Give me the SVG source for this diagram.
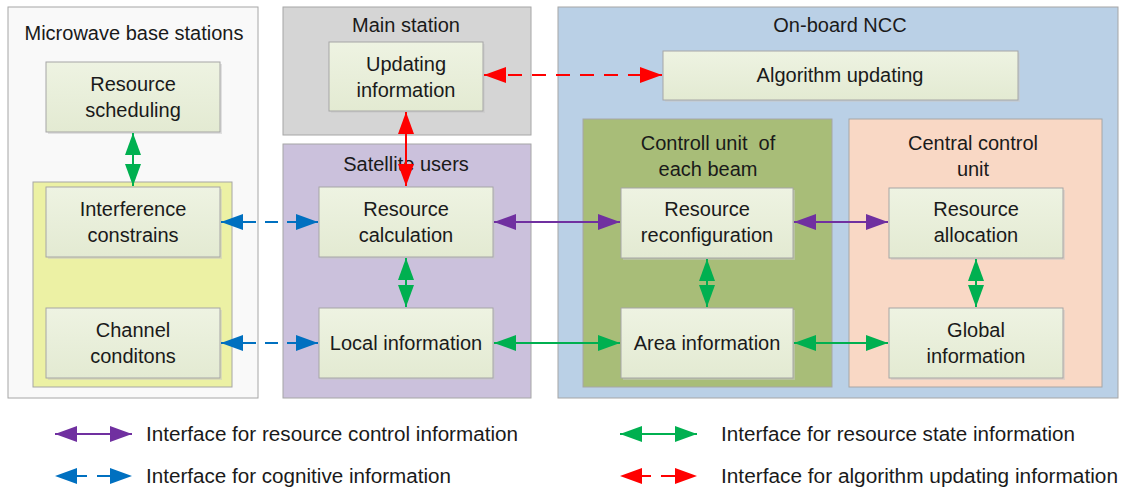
<svg xmlns="http://www.w3.org/2000/svg" width="1122" height="489" viewBox="0 0 1122 489">
<style>
text{font-family:"Liberation Sans",Arial,sans-serif;fill:#1a1a1a;white-space:pre}
.t{font-size:20px;text-anchor:middle}
.lg{font-size:20px}
.box{fill:url(#g);stroke:#a6a6a6;stroke-width:1}
.sh{fill:#c8c8c8;opacity:.5}
.grp{stroke:#a6a6a6;stroke-width:1}
.pu{stroke:#7030a0;stroke-width:2;fill:none}
.gr{stroke:#00b050;stroke-width:2;fill:none}
.bl{stroke:#0070c0;stroke-width:2;fill:none;stroke-dasharray:13 9}
.rd{stroke:#ff0000;stroke-width:2;fill:none;stroke-dasharray:14 10}
.rs{stroke:#ff0000;stroke-width:2;fill:none}
</style>
<defs>
<linearGradient id="g" x1="0" y1="0" x2="0" y2="1">
<stop offset="0" stop-color="#eef3e2"/>
<stop offset="1" stop-color="#e3ead2"/>
</linearGradient>
<marker id="mp" markerUnits="userSpaceOnUse" markerWidth="22" markerHeight="16" refX="22" refY="8" orient="auto-start-reverse"><path d="M0,0L22,8L0,16z" fill="#7030a0"/></marker>
<marker id="mg" markerUnits="userSpaceOnUse" markerWidth="22" markerHeight="16" refX="22" refY="8" orient="auto-start-reverse"><path d="M0,0L22,8L0,16z" fill="#00b050"/></marker>
<marker id="mb" markerUnits="userSpaceOnUse" markerWidth="22" markerHeight="16" refX="22" refY="8" orient="auto-start-reverse"><path d="M0,0L22,8L0,16z" fill="#0070c0"/></marker>
<marker id="mr" markerUnits="userSpaceOnUse" markerWidth="22" markerHeight="16" refX="22" refY="8" orient="auto-start-reverse"><path d="M0,0L22,8L0,16z" fill="#ff0000"/></marker>
</defs>
<rect width="1122" height="489" fill="#ffffff"/>

<g id="microwave">
<rect class="grp" x="8" y="7" width="250" height="391" fill="#f9f9f9"/>
<text class="t" x="134" y="40">Microwave base stations</text>
<rect class="grp" x="33" y="182" width="199" height="205" fill="#ecf1a4"/>
</g>
<g id="main-station">
<rect class="grp" x="283" y="7" width="248" height="128" fill="#d5d5d5"/>
<text class="t" x="406" y="32">Main station</text>
</g>
<g id="satellite-users">
<rect class="grp" x="283" y="144" width="248" height="254" fill="#cbc1dc"/>
<text class="t" x="406" y="171">Satellite users</text>
</g>
<g id="onboard-ncc">
<rect class="grp" x="558" y="7" width="560" height="391" fill="#bad0e6"/>
<text class="t" x="840" y="32">On-board NCC</text>
</g>
<g id="control-unit-beam">
<rect class="grp" x="583" y="119" width="249" height="268" fill="#a8bd78"/>
<text class="t" x="708" y="150">Controll unit  of</text>
<text class="t" x="708" y="176">each beam</text>
</g>
<g id="central-control-unit">
<rect class="grp" x="849" y="119" width="253" height="268" fill="#f9d8c5"/>
<text class="t" x="973" y="150">Central control</text>
<text class="t" x="973" y="176">unit</text>
</g>

<g id="resource-scheduling">
<rect class="sh" x="48" y="64" width="174" height="70"/>
<rect class="box" x="46" y="62" width="174" height="70"/>
<text class="t" x="133" y="91">Resource</text>
<text class="t" x="133" y="117">scheduling</text>
</g>
<g id="interference-constrains">
<rect class="sh" x="48" y="189" width="174" height="70"/>
<rect class="box" x="46" y="187" width="174" height="70"/>
<text class="t" x="133" y="216">Interference</text>
<text class="t" x="133" y="242">constrains</text>
</g>
<g id="channel-conditons">
<rect class="sh" x="48" y="310" width="174" height="70"/>
<rect class="box" x="46" y="308" width="174" height="70"/>
<text class="t" x="133" y="337">Channel</text>
<text class="t" x="133" y="363">conditons</text>
</g>
<g id="updating-information">
<rect class="sh" x="331" y="44" width="154" height="69"/>
<rect class="box" x="329" y="42" width="154" height="69"/>
<text class="t" x="406" y="71">Updating</text>
<text class="t" x="406" y="97">information</text>
</g>
<g id="resource-calculation">
<rect class="sh" x="321" y="189" width="174" height="70"/>
<rect class="box" x="319" y="187" width="174" height="70"/>
<text class="t" x="406" y="216">Resource</text>
<text class="t" x="406" y="242">calculation</text>
</g>
<g id="local-information">
<rect class="sh" x="321" y="310" width="174" height="70"/>
<rect class="box" x="319" y="308" width="174" height="70"/>
<text class="t" x="406" y="350">Local information</text>
</g>
<g id="algorithm-updating">
<rect class="sh" x="665" y="53" width="355" height="49"/>
<rect class="box" x="663" y="51" width="355" height="49"/>
<text class="t" x="840" y="82">Algorithm updating</text>
</g>
<g id="resource-reconfiguration">
<rect class="sh" x="623" y="190" width="172" height="70"/>
<rect class="box" x="621" y="188" width="172" height="70"/>
<text class="t" x="707" y="216">Resource</text>
<text class="t" x="707" y="242">reconfiguration</text>
</g>
<g id="area-information">
<rect class="sh" x="623" y="310" width="172" height="70"/>
<rect class="box" x="621" y="308" width="172" height="70"/>
<text class="t" x="707" y="350">Area information</text>
</g>
<g id="resource-allocation">
<rect class="sh" x="891" y="190" width="174" height="70"/>
<rect class="box" x="889" y="188" width="174" height="70"/>
<text class="t" x="976" y="216">Resource</text>
<text class="t" x="976" y="242">allocation</text>
</g>
<g id="global-information">
<rect class="sh" x="891" y="310" width="174" height="70"/>
<rect class="box" x="889" y="308" width="174" height="70"/>
<text class="t" x="976" y="337">Global</text>
<text class="t" x="976" y="363">information</text>
</g>

<g id="connectors">
<line class="gr" x1="133" y1="133" x2="133" y2="186" marker-start="url(#mg)" marker-end="url(#mg)"/>
<line class="bl" x1="221" y1="222" x2="318" y2="222" marker-start="url(#mb)" marker-end="url(#mb)"/>
<line class="bl" x1="221" y1="343" x2="318" y2="343" marker-start="url(#mb)" marker-end="url(#mb)"/>
<line class="rs" x1="406" y1="112" x2="406" y2="186" marker-start="url(#mr)" marker-end="url(#mr)"/>
<line class="rd" x1="484" y1="75" x2="662" y2="75" marker-start="url(#mr)" marker-end="url(#mr)"/>
<line class="gr" x1="406" y1="258" x2="406" y2="307" marker-start="url(#mg)" marker-end="url(#mg)"/>
<line class="pu" x1="494" y1="222" x2="620" y2="222" marker-start="url(#mp)" marker-end="url(#mp)"/>
<line class="gr" x1="494" y1="343" x2="620" y2="343" marker-start="url(#mg)" marker-end="url(#mg)"/>
<line class="pu" x1="794" y1="222" x2="888" y2="222" marker-start="url(#mp)" marker-end="url(#mp)"/>
<line class="gr" x1="794" y1="343" x2="888" y2="343" marker-start="url(#mg)" marker-end="url(#mg)"/>
<line class="gr" x1="707" y1="259" x2="707" y2="307" marker-start="url(#mg)" marker-end="url(#mg)"/>
<line class="gr" x1="976" y1="259" x2="976" y2="307" marker-start="url(#mg)" marker-end="url(#mg)"/>
</g>

<g id="legend">
<line class="pu" x1="55" y1="434" x2="132" y2="434" marker-start="url(#mp)" marker-end="url(#mp)"/>
<text class="lg" x="146" y="441" textLength="372" lengthAdjust="spacingAndGlyphs">Interface for resource control information</text>
<line class="gr" x1="620" y1="434" x2="697" y2="434" marker-start="url(#mg)" marker-end="url(#mg)"/>
<text class="lg" x="721" y="441" textLength="354" lengthAdjust="spacingAndGlyphs">Interface for resource state information</text>
<line stroke="#0070c0" stroke-width="2" x1="76" y1="476" x2="87" y2="476"/>
<line stroke="#0070c0" stroke-width="2" x1="97" y1="476" x2="111" y2="476"/>
<path d="M55,476L77,468L77,484z" fill="#0070c0"/>
<path d="M132,476L110,468L110,484z" fill="#0070c0"/>
<text class="lg" x="146" y="483" textLength="305" lengthAdjust="spacingAndGlyphs">Interface for cognitive information</text>
<line stroke="#ff0000" stroke-width="2" x1="641" y1="476" x2="651" y2="476"/>
<line stroke="#ff0000" stroke-width="2" x1="661" y1="476" x2="676" y2="476"/>
<path d="M620,476L642,468L642,484z" fill="#ff0000"/>
<path d="M697,476L675,468L675,484z" fill="#ff0000"/>
<text class="lg" x="721" y="483" textLength="397" lengthAdjust="spacingAndGlyphs">Interface for algorithm updating information</text>
</g>
</svg>
